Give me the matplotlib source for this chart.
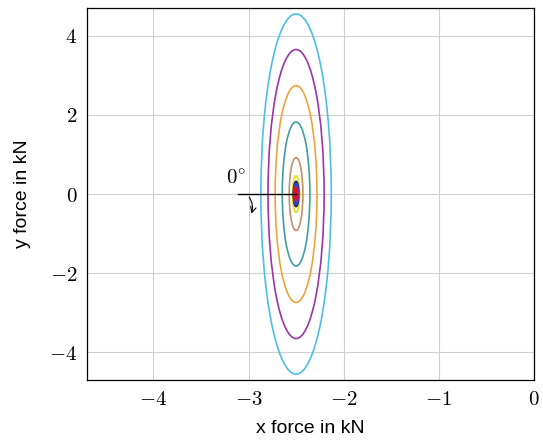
import numpy as np
import matplotlib.pyplot as plt
from matplotlib.patches import Ellipse
from matplotlib.ticker import FuncFormatter

plt.rcParams['mathtext.fontset'] = 'cm'
plt.rcParams['font.family'] = ['Liberation Sans', 'DejaVu Sans']

# ellipse data (center, semi-axes in kN)
center_x = -2.5
center_y = 0.0
semi_y = [4.55, 3.65, 2.74, 1.82, 0.92, 0.46, 0.31, 0.26, 0.15]
semi_x = [0.37, 0.295, 0.22, 0.145, 0.072, 0.037, 0.026, 0.021, 0.012]
colors = ['#4cbfe6', '#9b35a8', '#f0a33c', '#3f9f9f', '#c4906a',
          '#e8e010', '#1a1a5e', '#3040d8', '#e0102a']
widths = [1.2, 1.2, 1.2, 1.2, 1.2, 1.2, 1.6, 1.8, 2.2]

xticks = [-4, -3, -2, -1, 0]
yticks = [-4, -2, 0, 2, 4]

fig = plt.figure(figsize=(5.43, 4.42), dpi=100)
ax = fig.add_axes([0.160, 0.140, 0.823, 0.842])

for a, b, c, lw in zip(semi_x, semi_y, colors, widths):
    ax.add_patch(Ellipse((center_x, center_y), 2 * a, 2 * b, fill=False,
                         edgecolor=c, linewidth=lw, zorder=3))

# angle marker
ax.plot([-3.11, center_x], [0, 0], color='black', linewidth=1.0, zorder=4)
ax.text(-3.13, 0.38, r'$0^{\circ}$', fontsize=15, ha='center', va='center')
ax.annotate('', xy=(-2.98, -0.56), xytext=(-3.01, -0.02),
            arrowprops=dict(arrowstyle='->', color='black', lw=0.8,
                            connectionstyle='arc3,rad=-0.3'))

ax.set_xlim(-4.7, 0)
ax.set_ylim(-4.7, 4.7)
ax.set_xticks(xticks)
ax.set_yticks(yticks)
fmt = FuncFormatter(lambda v, p: r'$%d$' % v)
ax.xaxis.set_major_formatter(fmt)
ax.yaxis.set_major_formatter(fmt)
ax.tick_params(length=0, labelsize=15, pad=7)
ax.grid(True, color='#d0d0d0', linewidth=0.8)
ax.set_axisbelow(True)
for s in ax.spines.values():
    s.set_linewidth(0.9)

ax.set_xlabel('x force in kN', fontsize=14, labelpad=8)
ax.set_ylabel('y force in kN', fontsize=14, labelpad=13)

fig.savefig('out.png', dpi=100)
